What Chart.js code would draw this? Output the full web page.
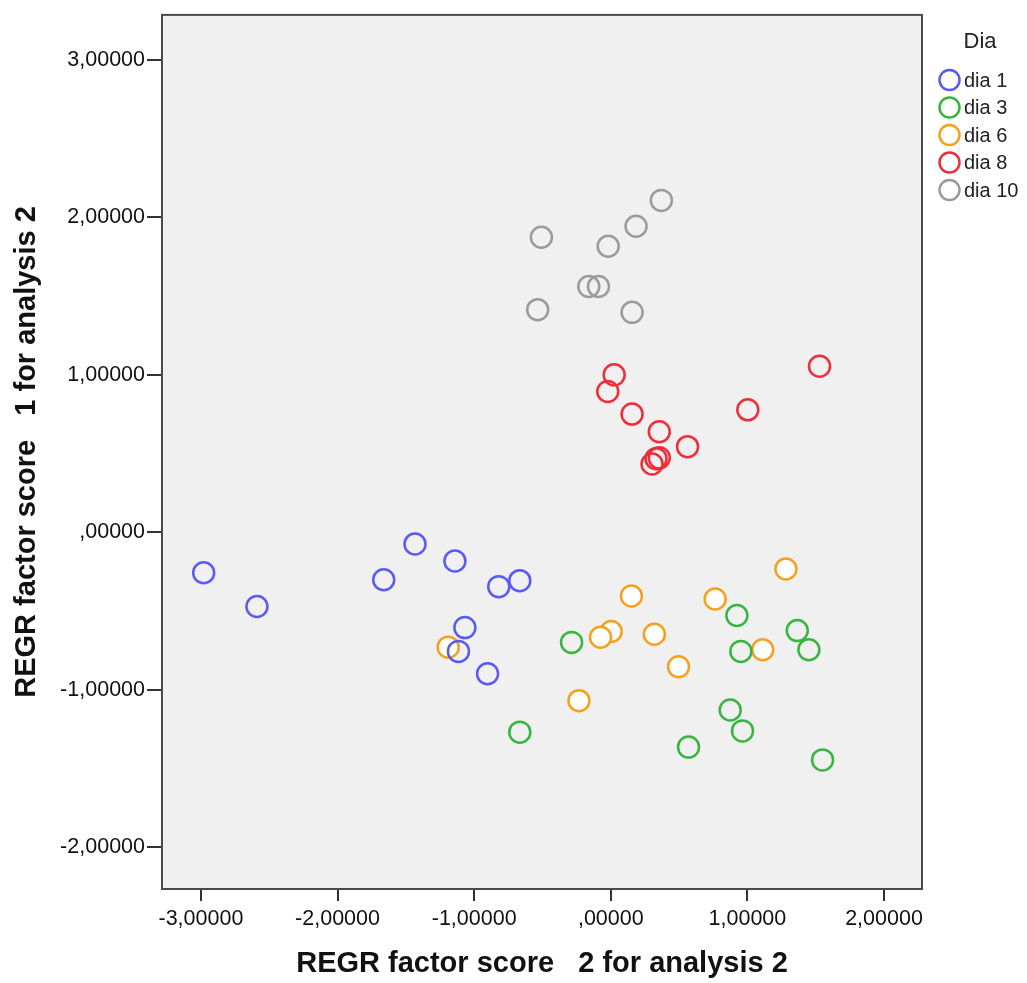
<!DOCTYPE html>
<html>
<head>
<meta charset="utf-8">
<script src="https://cdn.jsdelivr.net/npm/chart.js@4"></script>
<style>
  body { margin: 0; background: #fff; }
  #wrap { width: 1027px; height: 983px; }
</style>
</head>
<body>
<div id="wrap"><canvas id="scatter"></canvas></div>
<script>
// tick labels
const xTicks = [-3, -2, -1, 0, 1, 2];
const yTicks = [-2, -1, 0, 1, 2, 3];

// series: factor score 2 (x) and factor score 1 (y), per day
const seriesNames = ['dia 1', 'dia 3', 'dia 6', 'dia 8', 'dia 10'];
const dia1X = [-2.98, -2.59, -1.662, -1.433, -1.141, -0.820, -0.666, -1.068, -1.115, -0.902];
const dia1Y = [-0.258, -0.472, -0.302, -0.075, -0.183, -0.346, -0.308, -0.606, -0.757, -0.899];
const dia3X = [-0.666, -0.287, 0.923, 0.952, 1.365, 1.450, 0.874, 0.964, 0.569, 1.55];
const dia3Y = [-1.270, -0.700, -0.529, -0.757, -0.625, -0.747, -1.129, -1.262, -1.365, -1.446];
const dia6X = [-1.19, 1.282, 0.151, 0.764, 0.003, -0.075, 0.319, 1.112, 0.496, -0.233];
const dia6Y = [-0.730, -0.234, -0.405, -0.424, -0.631, -0.667, -0.648, -0.747, -0.855, -1.070];
const dia8X = [1.528, 0.025, -0.022, 0.156, 1.003, 0.355, 0.562, 0.331, 0.302, 0.355];
const dia8Y = [1.054, 0.999, 0.893, 0.750, 0.777, 0.638, 0.543, 0.467, 0.433, 0.472];
const dia10X = [0.370, 0.185, -0.508, -0.019, -0.161, -0.090, -0.535, 0.156];
const dia10Y = [2.107, 1.943, 1.873, 1.816, 1.560, 1.560, 1.413, 1.396];

const colours = ['#5a5af6', '#38b541', '#f6a11e', '#ec2f3a', '#9b9b9b'];
const fills = ['rgba(0,0,0,0)', 'rgba(0,0,0,0)', '#ffffff', 'rgba(0,0,0,0)', 'rgba(0,0,0,0)'];

/**
 * Pairs x and y arrays into point objects.
 */
function toPoints(xs, ys) {
  return xs.map((x, i) => ({ x: x, y: ys[i] }));
}

/**
 * SPSS style number: 5 decimals, comma, no leading zero.
 */
function spssNumber(v) {
  let s = Math.abs(v).toFixed(5).replace('.', ',');
  if (s.startsWith('0')) s = s.slice(1);
  return (v < 0 ? '-' : '') + s;
}

const allX = [dia1X, dia3X, dia6X, dia8X, dia10X];
const allY = [dia1Y, dia3Y, dia6Y, dia8Y, dia10Y];
const datasets = seriesNames.map((name, i) => ({
  label: name,
  data: toPoints(allX[i], allY[i]),
  borderColor: colours[i],
  backgroundColor: fills[i],
  pointRadius: 10.5,
  pointBorderWidth: 2.5,
  pointStyle: 'circle'
}));

const framePlugin = {
  id: 'frame',
  beforeDraw(chart) {
    let { ctx, chartArea: a } = chart;
    ctx.save();
    ctx.fillStyle = '#f0f0f0';
    ctx.fillRect(a.left, a.top, a.right - a.left, a.bottom - a.top);
    ctx.restore();
  },
  afterDraw(chart) {
    let { ctx, chartArea: a } = chart;
    ctx.save();
    ctx.strokeStyle = '#4a4a4a';
    ctx.lineWidth = 2;
    ctx.strokeRect(a.left, a.top, a.right - a.left, a.bottom - a.top);

    // axis titles
    ctx.fillStyle = '#111';
    ctx.font = 'bold 29px "Liberation Sans", Arial, sans-serif';
    ctx.textAlign = 'center';
    ctx.textBaseline = 'middle';
    ctx.fillText('REGR factor score   2 for analysis 2', (a.left + a.right) / 2, 964);
    ctx.translate(27, (a.top + a.bottom) / 2);
    ctx.rotate(-Math.PI / 2);
    ctx.fillText('REGR factor score   1 for analysis 2', 0, 0);
    ctx.restore();

    // legend
    ctx.save();
    ctx.fillStyle = '#222';
    ctx.font = '22px "Liberation Sans", Arial, sans-serif';
    ctx.textAlign = 'center';
    ctx.textBaseline = 'middle';
    ctx.fillText('Dia', 980, 42);
    ctx.font = '20px "Liberation Sans", Arial, sans-serif';
    ctx.textAlign = 'left';
    chart.data.datasets.forEach((ds, i) => {
      let y = 80 + i * 27.5;
      ctx.beginPath();
      ctx.arc(949.5, y, 10, 0, Math.PI * 2);
      ctx.lineWidth = 2.5;
      ctx.strokeStyle = ds.borderColor;
      ctx.stroke();
      ctx.fillStyle = '#222';
      ctx.fillText(ds.label, 964, y + 1);
    });
    ctx.restore();
  }
};

new Chart(document.getElementById('scatter'), {
  type: 'scatter',
  data: { datasets: datasets },
  plugins: [framePlugin],
  options: {
    responsive: true,
    maintainAspectRatio: false,
    animation: false,
    layout: { padding: { top: 12, right: 105, left: 0, bottom: 0 } },
    plugins: { legend: { display: false }, tooltip: { enabled: false } },
    scales: {
      x: {
        type: 'linear',
        min: -3.285,
        max: 2.278,
        afterFit: scale => { scale.height = 94; },
        afterBuildTicks: scale => { scale.ticks = xTicks.map(v => ({ value: v })); },
        grid: { drawOnChartArea: false, drawTicks: true, tickLength: 12, color: '#333', lineWidth: 2 },
        border: { display: false },
        ticks: {
          padding: 5,
          color: '#111',
          maxRotation: 0,
          font: { family: '"Liberation Sans", Arial, sans-serif', size: 21.5 },
          callback: v => spssNumber(v)
        }
      },
      y: {
        type: 'linear',
        min: -2.266,
        max: 3.285,
        afterFit: scale => { scale.width = 162; },
        afterBuildTicks: scale => { scale.ticks = yTicks.map(v => ({ value: v })); },
        grid: { drawOnChartArea: false, drawTicks: true, tickLength: 15, color: '#333', lineWidth: 2 },
        border: { display: false },
        ticks: {
          padding: 2,
          color: '#111',
          font: { family: '"Liberation Sans", Arial, sans-serif', size: 21.5 },
          callback: v => spssNumber(v)
        }
      }
    }
  }
});
</script>
</body>
</html>
